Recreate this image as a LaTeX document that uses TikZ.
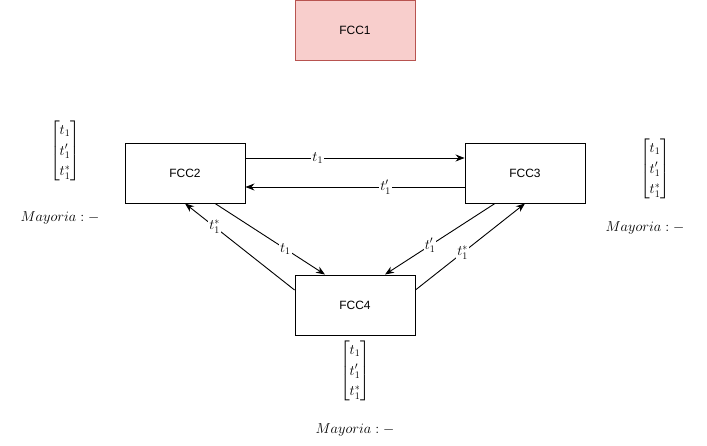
\documentclass[tikz,border=0pt]{standalone}
\usepackage{amsmath}
\usepackage{fontspec}
\newfontfamily\boxfont{Liberation Sans}
\usetikzlibrary{arrows.meta,calc}
\definecolor{pinkfill}{HTML}{F8CECC}
\definecolor{pinkline}{HTML}{B85450}
\newcommand{\tvec}{{\renewcommand{\arraystretch}{1.2}$\begin{bmatrix} t_1\\ t'_1\\ t^*_1\end{bmatrix}$}}
\tikzset{
  fcc/.style={draw=black, line width=0.9pt, minimum width=120pt, minimum height=60pt, inner sep=0pt, font=\boxfont\fontsize{12}{14}\selectfont},
  conn/.style={line width=0.9pt, -{Stealth[length=9pt,width=7pt]}},
  lbl/.style={fill=white, inner sep=1pt, font=\fontsize{14}{16}\selectfont},
  mathtxt/.style={inner sep=0pt, font=\fontsize{14}{17}\selectfont}
}
\begin{document}
\begin{tikzpicture}[x=1pt,y=-1pt]
\useasboundingbox (0,0) rectangle (707,446);
\node[fcc, fill=pinkfill, draw=pinkline] (fcc1) at (355,30) {FCC1};
\node[fcc] (fcc2) at (185,173) {FCC2};
\node[fcc] (fcc3) at (525,173) {FCC3};
\node[fcc] (fcc4) at (355,305) {FCC4};

\coordinate (a1) at ($(fcc2.east)+(0,-15)$);
\coordinate (a2) at ($(fcc3.west)+(0,-15)$);
\coordinate (b1) at ($(fcc3.west)+(0,14)$);
\coordinate (b2) at ($(fcc2.east)+(0,14)$);
\coordinate (c1) at ($(fcc2.south)+(30,0)$);
\coordinate (c2) at ($(fcc4.north)+(-30,0)$);
\coordinate (d1) at ($(fcc4.west)+(0,-15)$);
\coordinate (e1) at ($(fcc3.south)+(-30,0)$);
\coordinate (e2) at ($(fcc4.north)+(30,0)$);
\coordinate (f1) at ($(fcc4.east)+(0,-15)$);

\draw[conn] (a1) -- node[lbl, pos=0.33] {$t_1$} (a2);
\draw[conn] (b1) -- node[lbl, pos=0.36] {$t'_1$} (b2);
\draw[conn] (c1) -- node[lbl, pos=0.64] {$t_1$} (c2);
\draw[conn] (d1) -- node[lbl, pos=0.73] {$t^*_1$} (fcc2.south);
\draw[conn] (e1) -- node[lbl, pos=0.59] {$t'_1$} (e2);
\draw[conn] (f1) -- node[lbl, pos=0.43] {$t^*_1$} (fcc3.south);

\node[mathtxt] (m2) at (65,151) {\tvec};
\node[mathtxt] (may2) at (60,218) {$Mayoria:-$};
\node[mathtxt] (m3) at (655,169) {\tvec};
\node[mathtxt] (may3) at (645,228) {$Mayoria:-$};
\node[mathtxt] (m4) at (355,371) {\tvec};
\node[mathtxt] (may4) at (355,430) {$Mayoria:-$};
\end{tikzpicture}
\end{document}
